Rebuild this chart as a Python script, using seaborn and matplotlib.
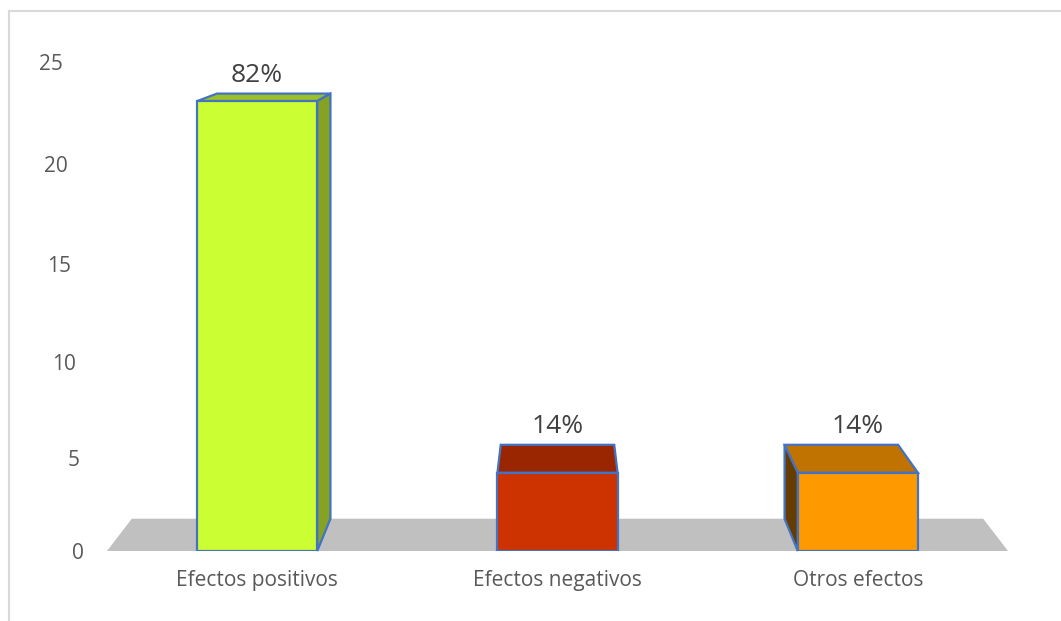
import matplotlib
matplotlib.use("Agg")
import matplotlib.pyplot as plt
import matplotlib.transforms as mtransforms
from matplotlib.patches import Polygon, Rectangle
from matplotlib.lines import Line2D
import seaborn as sns
import pandas as pd

# ---- data ----
categories = ["Efectos positivos", "Efectos negativos", "Otros efectos"]
values = [23, 4, 4]
pct_labels = ["82%", "14%", "14%"]
y_ticks = [0, 5, 10, 15, 20, 25]

# ---- styles ----
front_colors = ["#CCFF33", "#CC3300", "#FF9900"]
top_colors = ["#9BBF26", "#992600", "#C07300"]
side_colors = ["#84A322", "#7A1F00", "#663D00"]
edge_color = "#4472C4"
floor_color = "#C0C0C0"
text_color = "#595959"
label_color = "#404040"

# perspective (vanishing point in data coords, depth factor)
VX, VY, K = 1.0, 30.0, 0.945


def back(x, y):
    return (VX + (x - VX) * K, VY + (y - VY) * K)


sns.set_theme(style="white")
plt.rcParams['font.family'] = ['Open Sans', 'DejaVu Sans']

W, H = 1061, 621
fig = plt.figure(figsize=(W / 100, H / 100), dpi=100)
ax = fig.add_axes([107 / W, 70 / H, 901 / W, 489 / H])

df = pd.DataFrame({"cat": categories, "val": values})
sns.barplot(data=df, x="cat", y="val", hue="cat", palette=front_colors,
            width=0.4, ax=ax, legend=False, edgecolor=edge_color,
            linewidth=1.6, zorder=4, saturation=1)
bars = sorted([p for p in ax.patches if isinstance(p, Rectangle) and p.get_height() > 0],
              key=lambda p: p.get_x())

ax.set_xlim(-0.5, 2.5)
ax.set_ylim(0, 25)

# floor
x_lo, x_hi = ax.get_xlim()
floor = [(x_lo, 0), (x_hi, 0), back(x_hi, 0), back(x_lo, 0)]
ax.add_patch(Polygon(floor, closed=True, facecolor=floor_color,
                     edgecolor="none", zorder=1, clip_on=False))

# 3D faces derived from the bar patches
for i, bar in enumerate(bars):
    x0 = bar.get_x()
    x1 = x0 + bar.get_width()
    h = bar.get_height()
    top = [(x0, h), (x1, h), back(x1, h), back(x0, h)]
    ax.add_patch(Polygon(top, closed=True, facecolor=top_colors[i],
                         edgecolor=edge_color, linewidth=1.6, zorder=3,
                         clip_on=False))
    if x1 < VX:
        side = [(x1, 0), (x1, h), back(x1, h), back(x1, 0)]
        ax.add_patch(Polygon(side, closed=True, facecolor=side_colors[i],
                             edgecolor=edge_color, linewidth=1.6, zorder=3,
                             clip_on=False))
    if x0 > VX:
        side = [(x0, 0), (x0, h), back(x0, h), back(x0, 0)]
        ax.add_patch(Polygon(side, closed=True, facecolor=side_colors[i],
                             edgecolor=edge_color, linewidth=1.6, zorder=3,
                             clip_on=False))
    bx, by = back(x0 + bar.get_width() / 2, h)
    ax.text(x0 + bar.get_width() / 2, by + 0.3, pct_labels[i],
            ha="center", va="bottom", fontsize=19, color=label_color,
            clip_on=False)

# axes styling
for s in ax.spines.values():
    s.set_visible(False)
ax.set_xlabel("")
ax.set_ylabel("")
ax.set_yticks(y_ticks)
ax.set_yticklabels([str(t) for t in y_ticks])
ax.tick_params(axis="y", length=0, pad=16.5, labelsize=15, labelcolor=text_color)
ax.tick_params(axis="x", length=0, pad=14, labelsize=15, labelcolor=text_color)
ax.grid(False)

# perspective placement of the value-axis labels (slanted, slightly foreshortened)
ymax = y_ticks[-1]
px_per_unit = 489 / ymax
for t, lab in zip(y_ticks, ax.get_yticklabels()):
    persp = 18.48 * t / (1 - 0.0022 * t)
    dy_px = px_per_unit * t - persp
    dx_px = -(t / ymax) * 21
    off = mtransforms.ScaledTranslation(dx_px / 100, -dy_px / 100, fig.dpi_scale_trans)
    lab.set_transform(lab.get_transform() + off)

# chart frame (left & top only visible)
fig.add_artist(Line2D([9 / W, 9 / W], [0, 1 - 11 / H], transform=fig.transFigure,
                      color="#D9D9D9", linewidth=1.5))
fig.add_artist(Line2D([9 / W, 1], [1 - 11 / H, 1 - 11 / H], transform=fig.transFigure,
                      color="#D9D9D9", linewidth=1.5))

fig.savefig("out.png", dpi=100, facecolor="white")
